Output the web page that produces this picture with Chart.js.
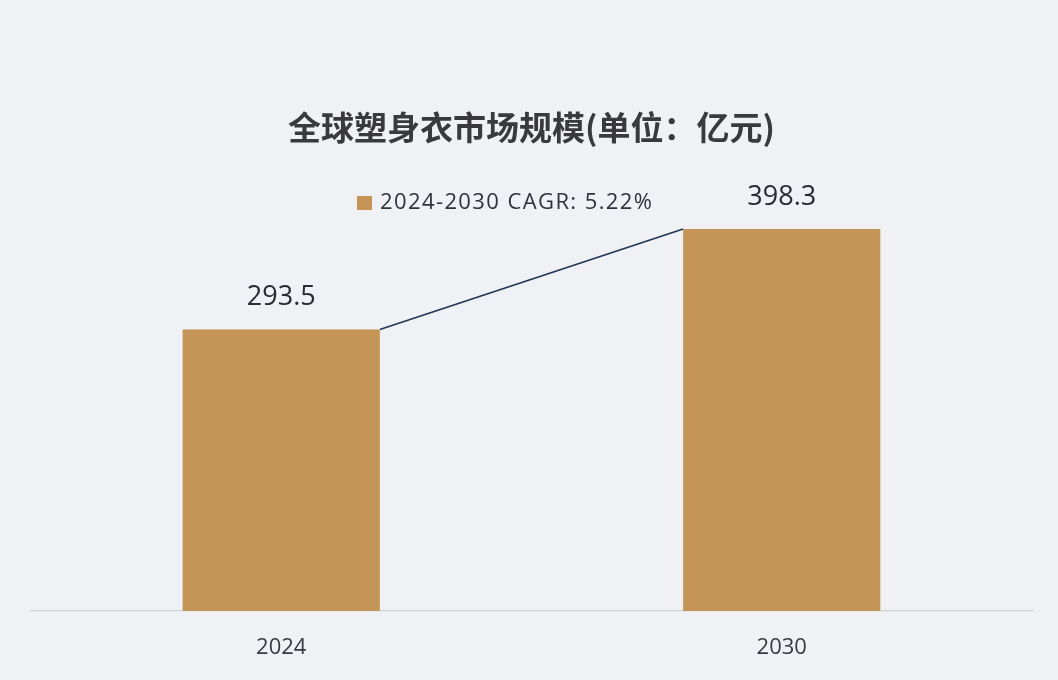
<!DOCTYPE html>
<html lang="zh-CN">
  <head>
    <meta charset="UTF-8" />
    <title>全球塑身衣市场规模</title>
    <script src="https://cdn.jsdelivr.net/npm/chart.js"></script>
    <style>
      html, body { margin: 0; padding: 0; background: #eff1f4; }
      #wrap { width: 1058px; height: 680px; }
    </style>
  </head>
  <body>
    <div id="wrap"><canvas id="marketChart" width="1058" height="680"></canvas></div>

    <script>
      const years = ["2024", "2030"];
      const marketSize = [293.5, 398.3];
      const seriesLabel = "2024-2030 CAGR: 5.22%";
      const chartTitle = "全球塑身衣市场规模(单位：亿元)";

      const barColor = "#c49556";

      // 柱顶连线 + 数值 + 图例
      const extras = {
        id: "extras",
        afterDatasetsDraw(chart) {
          const ctx = chart.ctx;
          const bars = chart.getDatasetMeta(0).data;
          ctx.save();

          // 连接两根柱子的斜线
          const a = bars[0], b = bars[1];
          ctx.strokeStyle = "#1e3653";
          ctx.lineWidth = 1.6;
          ctx.beginPath();
          ctx.moveTo(a.x + a.width / 2, a.y);
          ctx.lineTo(b.x - b.width / 2, b.y);
          ctx.stroke();

          // 数值标签
          ctx.fillStyle = "#2b2b33";
          ctx.font = "27px 'Open Sans', sans-serif";
          ctx.textAlign = "center";
          ctx.textBaseline = "middle";
          bars.forEach((bar, i) => {
            ctx.fillText(marketSize[i].toFixed(1), bar.x, bar.y - 32);
          });

          // 图例
          ctx.fillStyle = barColor;
          ctx.fillRect(357, 196, 15, 14);
          ctx.fillStyle = "#33323a";
          ctx.font = "22px 'Open Sans', sans-serif";
          ctx.letterSpacing = "1.4px";
          ctx.textAlign = "left";
          ctx.fillText(seriesLabel, 380, 203);
          ctx.restore();
        },
      };

      const ctx = document.getElementById("marketChart").getContext("2d");
      new Chart(ctx, {
        type: "bar",
        data: {
          labels: years,
          datasets: [
            {
              label: seriesLabel,
              data: marketSize,
              backgroundColor: barColor,
              barPercentage: 0.394,
              categoryPercentage: 1,
            },
          ],
        },
        options: {
          responsive: false,
          animation: false,
          layout: { padding: { left: 31, right: 26, top: 0, bottom: 19 } },
          plugins: {
            legend: { display: false },
            tooltip: { enabled: false },
            title: {
              display: true,
              text: chartTitle,
              color: "#3a3a3e",
              font: { family: "'Noto Sans CJK SC', sans-serif", size: 33, weight: "bold" },
              padding: { top: 108, bottom: 7 },
            },
          },
          scales: {
            x: {
              grid: { display: false, drawTicks: false },
              border: { display: true, color: "#d3d4d7", width: 1.2 },
              ticks: {
                color: "#3a3a40",
                padding: 24,
                font: { family: "'Open Sans', sans-serif", size: 22 },
              },
              afterFit: (scale) => { scale.height = 50; },
            },
            y: {
              display: false,
              min: 0,
              max: 476,
            },
          },
        },
        plugins: [extras],
      });
    </script>
  </body>
</html>
